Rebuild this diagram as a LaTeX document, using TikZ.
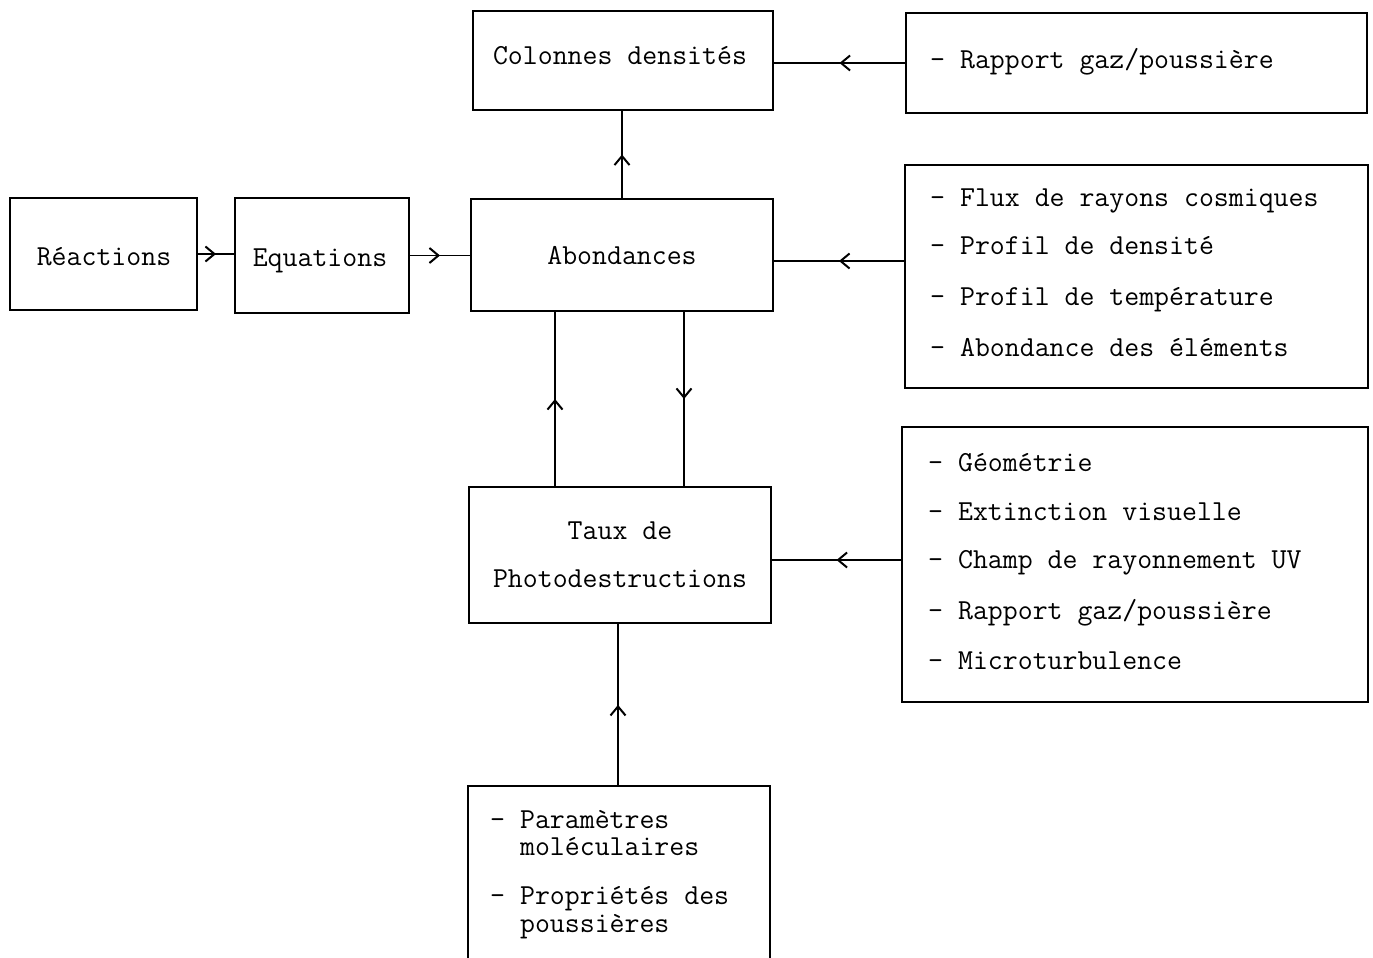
\documentclass[tikz,border=0pt]{standalone}
\usepackage{fontspec}
\usetikzlibrary{arrows.meta,decorations.markings,calc}
\begin{document}
\begin{tikzpicture}[x=1pt,y=-1pt,
  box/.style={draw,line width=1.6pt,rectangle,inner sep=0pt},
  txt/.style={inner sep=0pt,font=\ttfamily\fontsize{29}{34}\selectfont},
  conn/.style={line width=1.6pt,postaction={decorate},
    decoration={markings,mark=at position 0.5 with {\arrow{Straight Barb[length=9pt,width=15pt,line width=2pt]}}}}]
\useasboundingbox (0,0) rectangle (1373,958);
% boxes
\node[box,minimum width=300pt,minimum height=99pt] (col) at (623,60.5) {};
\node[box,minimum width=461pt,minimum height=100pt] (rap) at (1136.5,63) {};
\node[box,minimum width=187pt,minimum height=112pt] (rea) at (103.5,254) {};
\node[box,minimum width=174pt,minimum height=115pt] (equ) at (322,255.5) {};
\node[box,minimum width=302pt,minimum height=112pt] (abo) at (622,255) {};
\node[box,minimum width=463pt,minimum height=223pt] (par2) at (1136.5,276.5) {};
\node[box,minimum width=302pt,minimum height=136pt] (taux) at (620,555) {};
\node[box,minimum width=466pt,minimum height=275pt] (par3) at (1135,564.5) {};
\draw[line width=1.6pt] (468,960) -- (468,786) -- (770,786) -- (770,960);
\coordinate (bot) at (618,786);
% texts
\node[txt,anchor=base] (tcol) at (620,64) {Colonnes densités};
\node[txt,anchor=base west] (trap) at (930,69) {- Rapport gaz/poussière};
\node[txt,anchor=base] (trea) at (104,265) {Réactions};
\node[txt,anchor=base] (tequ) at (320,266) {Equations};
\node[txt,anchor=base] (tabo) at (622,264) {Abondances};
\node[txt,anchor=base west] (ta) at (930,206) {- Flux de rayons cosmiques};
\node[txt,anchor=base west] (tb) at (930,254) {- Profil de densité};
\node[txt,anchor=base west] (tc) at (930,305) {- Profil de température};
\node[txt,anchor=base west] (td) at (930,356) {- Abondance des éléments};
\node[txt,anchor=base] (ttx1) at (620,539) {Taux de};
\node[txt,anchor=base] (ttx2) at (620,587) {Photodestructions};
\node[txt,anchor=base west] (te) at (928,471) {- Géométrie};
\node[txt,anchor=base west] (tf) at (928,520) {- Extinction visuelle};
\node[txt,anchor=base west] (tg) at (928,568) {- Champ de rayonnement UV};
\node[txt,anchor=base west] (th) at (928,619) {- Rapport gaz/poussière};
\node[txt,anchor=base west] (ti) at (928,669) {- Microturbulence};
\node[txt,anchor=north west,align=left,font=\ttfamily\fontsize{29}{27}\selectfont] (tj) at (490,810)
  {- Paramètres\\\phantom{- }moléculaires};
\node[txt,anchor=north west,align=left,font=\ttfamily\fontsize{29}{28}\selectfont] (tl) at (490,886)
  {- Propriétés des\\\phantom{- }poussières};
% connectors
\draw[conn] (rap.west) -- (rap.west -| col.east);
\draw[conn] (abo.north) -- (abo.north |- col.south);
\draw[conn] (rea.east) -- (rea.east -| equ.west);
\draw[conn] (equ.east) -- (equ.east -| abo.west);
\coordinate (a2) at ($(abo.east)+(0,6)$);
\draw[conn] (a2 -| par2.west) -- (a2);
\coordinate (tu) at ($(taux.north)+(-65,0)$);
\draw[conn] (tu) -- (tu |- abo.south);
\coordinate (td2) at ($(abo.south)+(62,0)$);
\draw[conn] (td2) -- (td2 |- taux.north);
\coordinate (t3) at ($(taux.east)+(0,5)$);
\draw[conn] (t3 -| par3.west) -- (t3);
\draw[conn] (bot) -- (bot |- taux.south);
\end{tikzpicture}
\end{document}
